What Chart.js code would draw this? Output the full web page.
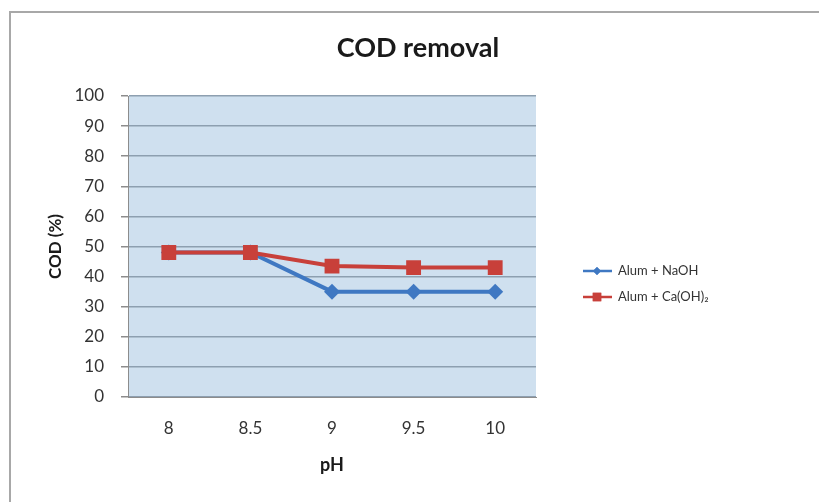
<!DOCTYPE html>
<html>
<head>
<meta charset="utf-8">
<script src="https://cdn.jsdelivr.net/npm/chart.js@4/dist/chart.umd.min.js"></script>
<style>
html,body{margin:0;padding:0;background:#fff;}
#wrap{position:relative;width:819px;height:502px;}
</style>
</head>
<body>
<div id="wrap"><canvas id="c" width="819" height="502"></canvas></div>
<script>
const categories = ['8', '8.5', '9', '9.5', '10'];
const alumNaOH = [48, 48, 35, 35, 35];
const alumCaOH2 = [48, 48, 43.5, 43, 43];
const seriesNames = ['Alum + NaOH', 'Alum + Ca(OH)\u2082'];
const yTicks = [0, 10, 20, 30, 40, 50, 60, 70, 80, 90, 100];

const FONT = 'Lato, "Open Sans", sans-serif';
const BLUE = '#3f78c2';
const RED = '#c8403a';

const framePlugin = {
  id: 'frame',
  beforeDraw(chart) {
    const ctx = chart.ctx;
    const a = chart.chartArea;
    ctx.save();
    ctx.fillStyle = '#ffffff';
    ctx.fillRect(0, 0, chart.width, chart.height);
    ctx.strokeStyle = '#a8a8a8';
    ctx.lineWidth = 2;
    ctx.strokeRect(10, 12, chart.width + 20, chart.height + 20);
    ctx.fillStyle = '#cfe0ef';
    ctx.fillRect(a.left, a.top, a.right - a.left, a.bottom - a.top);
    ctx.restore();
  },
  afterDraw(chart) {
    const ctx = chart.ctx;
    ctx.save();
    ctx.fillStyle = '#1a1a1a';
    ctx.font = 'bold 27px ' + FONT;
    ctx.textAlign = 'center';
    ctx.textBaseline = 'middle';
    ctx.fillText('COD removal', 418, 48);
    const items = [
      {label: seriesNames[0], color: BLUE, style: 'rectRot', r: 4, y: 271},
      {label: seriesNames[1], color: RED, style: 'rect', r: 6, y: 297}
    ];
    ctx.font = '13px ' + FONT;
    ctx.textAlign = 'left';
    items.forEach(it => {
      ctx.strokeStyle = it.color;
      ctx.lineWidth = 2.5;
      ctx.beginPath();
      ctx.moveTo(583, it.y);
      ctx.lineTo(612, it.y);
      ctx.stroke();
      ctx.fillStyle = it.color;
      Chart.helpers.drawPoint(ctx, {pointStyle: it.style, radius: it.r, rotation: 0, borderWidth: 0}, 597, it.y);
      ctx.fill();
      ctx.fillStyle = '#333';
      ctx.fillText(it.label, 618, it.y);
    });
    ctx.restore();
  }
};

new Chart(document.getElementById('c'), {
  type: 'line',
  data: {
    labels: categories,
    datasets: [
      {
        label: seriesNames[0], data: alumNaOH, order: 1,
        borderColor: BLUE, backgroundColor: BLUE, borderWidth: 4,
        pointStyle: 'rectRot', pointRadius: 8, pointHoverRadius: 8,
        pointBorderWidth: 0, tension: 0
      },
      {
        label: seriesNames[1], data: alumCaOH2, order: 0,
        borderColor: RED, backgroundColor: RED, borderWidth: 4,
        pointStyle: 'rect', pointRadius: 10.5, pointHoverRadius: 10.5,
        pointBorderWidth: 0, tension: 0
      }
    ]
  },
  options: {
    responsive: false,
    animation: false,
    events: [],
    layout: {padding: {left: 0, top: 96, right: 283, bottom: 0}},
    plugins: {legend: {display: false}, title: {display: false}, tooltip: {enabled: false}},
    scales: {
      x: {
        offset: true,
        grid: {display: false},
        border: {display: true, color: '#8c8c8c', width: 1},
        ticks: {color: '#333', font: {family: FONT, size: 17}, padding: 13, maxRotation: 0},
        title: {display: true, text: 'pH', color: '#1a1a1a', font: {family: FONT, size: 18, weight: 'bold'}, padding: {top: 0, bottom: 26}},
        afterFit(s) { s.height = 105; }
      },
      y: {
        min: 0, max: 100,
        afterBuildTicks(s) { s.ticks = yTicks.map(v => ({value: v})); },
        grid: {color: '#8d9fb0', lineWidth: 1.5, tickLength: 7, tickColor: '#8c8c8c'},
        border: {display: true, color: '#8c8c8c', width: 1},
        ticks: {color: '#333', font: {family: FONT, size: 17}, padding: 17},
        title: {display: true, text: 'COD (%)', color: '#1a1a1a', font: {family: FONT, size: 17, weight: 'bold'}, padding: {top: 45, bottom: 0}},
        afterFit(s) { s.width = 128; }
      }
    }
  },
  plugins: [framePlugin]
});
</script>
</body>
</html>
